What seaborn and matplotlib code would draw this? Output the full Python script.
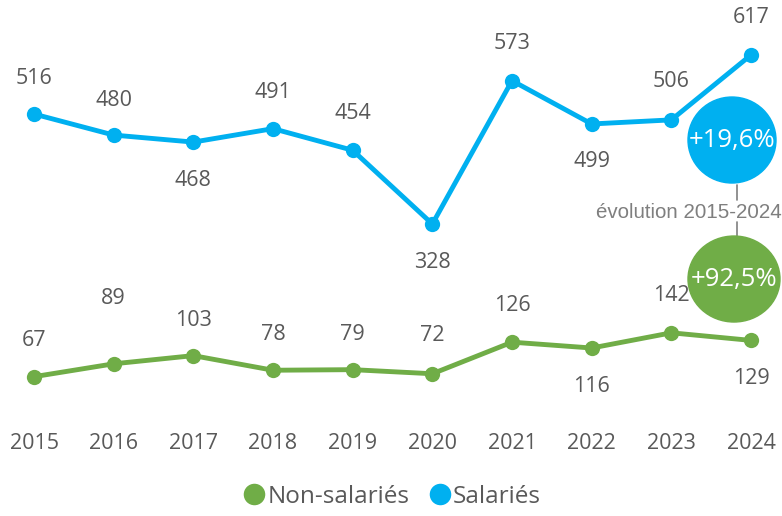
import matplotlib
matplotlib.use("Agg")
import matplotlib.pyplot as plt
import seaborn as sns
import pandas as pd
from matplotlib.patches import Ellipse
from matplotlib.lines import Line2D

years = ["2015", "2016", "2017", "2018", "2019", "2020", "2021", "2022", "2023", "2024"]
salaries = [516, 480, 468, 491, 454, 328, 573, 499, 506, 617]
non_salaries = [67, 89, 103, 78, 79, 72, 126, 116, 142, 129]
evol_salaries = "+19,6%"
evol_non_salaries = "+92,5%"
evol_label = "évolution 2015-2024"

# label offsets (pixels, positive = above)
off_sal = [36, 35, -38, 36, 37, -39, 37, -38, 38, 37]
off_non = [36, 65, 35, 36, 35, 38, 37, -38, 37, -38]

BLUE = "#00B0F0"
GREEN = "#70AD47"
TXT = "#595959"

sns.set_theme(style="white")
plt.rcParams["font.family"] = ["Open Sans", "DejaVu Sans"]

W, H = 782, 516
fig = plt.figure(figsize=(W / 100, H / 100), dpi=100)
axh = 425
ax = fig.add_axes([0, (H - axh) / H, 1, axh / H])

x = list(range(len(years)))
df = pd.DataFrame({"x": x, "sal": salaries, "non": non_salaries})
sns.lineplot(data=df, x="x", y="sal", ax=ax, color=BLUE, lw=3.5, marker="o",
             markersize=11, markeredgewidth=0)
sns.lineplot(data=df, x="x", y="non", ax=ax, color=GREEN, lw=3.5, marker="o",
             markersize=11, markeredgewidth=0)

ax.set_xlim(-34 / 79.67, (W - 34) / 79.67)
ax.set_ylim(-15.6, 710.9)
for s in ax.spines.values():
    s.set_visible(False)
ax.set_yticks([])
ax.set_xticks(x)
ax.set_xticklabels(years)
ax.tick_params(axis="x", length=0, pad=5.5, labelsize=15.5, labelcolor=TXT)
ax.set_xlabel("")
ax.set_ylabel("")

px2pt = 72 / 100
for xi, v, o in zip(x, salaries, off_sal):
    ax.annotate(str(v), (xi, v), xytext=(0, o * px2pt), textcoords="offset points",
                ha="center", va="center", fontsize=15.5, color=TXT)
for xi, v, o in zip(x, non_salaries, off_non):
    ax.annotate(str(v), (xi, v), xytext=(0, o * px2pt), textcoords="offset points",
                ha="center", va="center", fontsize=15.5, color=TXT)

# evolution bubbles
def px_to_data(px, py):
    return ((px - 34) / 79.67, 516 - (py - 114) / 0.585)

cx, cy = px_to_data(732, 140)
ax.add_patch(Ellipse((cx, cy), 88 / 79.67, 86 / 0.585, color=BLUE, zorder=5, clip_on=False))
ax.text(cx, cy, evol_salaries, ha="center", va="center", color="white", fontsize=18.5, zorder=6)
gx, gy = px_to_data(734, 279)
ax.add_patch(Ellipse((gx, gy), 92 / 79.67, 86 / 0.585, color=GREEN, zorder=5, clip_on=False))
ax.text(gx, gy, evol_non_salaries, ha="center", va="center", color="white", fontsize=18.5, zorder=6)

lx, ly1 = px_to_data(737, 185)
_, ly2 = px_to_data(737, 200)
_, ly3 = px_to_data(737, 222)
_, ly4 = px_to_data(737, 237)
ax.plot([lx, lx], [ly1, ly2], color="#7f7f7f", lw=1.2)
ax.plot([lx, lx], [ly3, ly4], color="#7f7f7f", lw=1.2)
tx, ty = px_to_data(596, 212)
ax.text(tx, ty, evol_label, ha="left", va="center", color="#7f7f7f", fontsize=14.8,
        family=["Liberation Sans", "DejaVu Sans"])

handles = [Line2D([], [], ls="", marker="o", color=GREEN, markersize=15.5, markeredgewidth=0),
           Line2D([], [], ls="", marker="o", color=BLUE, markersize=15.5, markeredgewidth=0)]
fig.legend(handles, ["Non-salariés", "Salariés"], loc="center", bbox_to_anchor=(0.5, 1 - 497 / H),
           ncol=2, frameon=False, fontsize=17.5, labelcolor=TXT, handletextpad=0.0,
           columnspacing=0.7, handlelength=1.1)

fig.savefig("out.png", dpi=100)
